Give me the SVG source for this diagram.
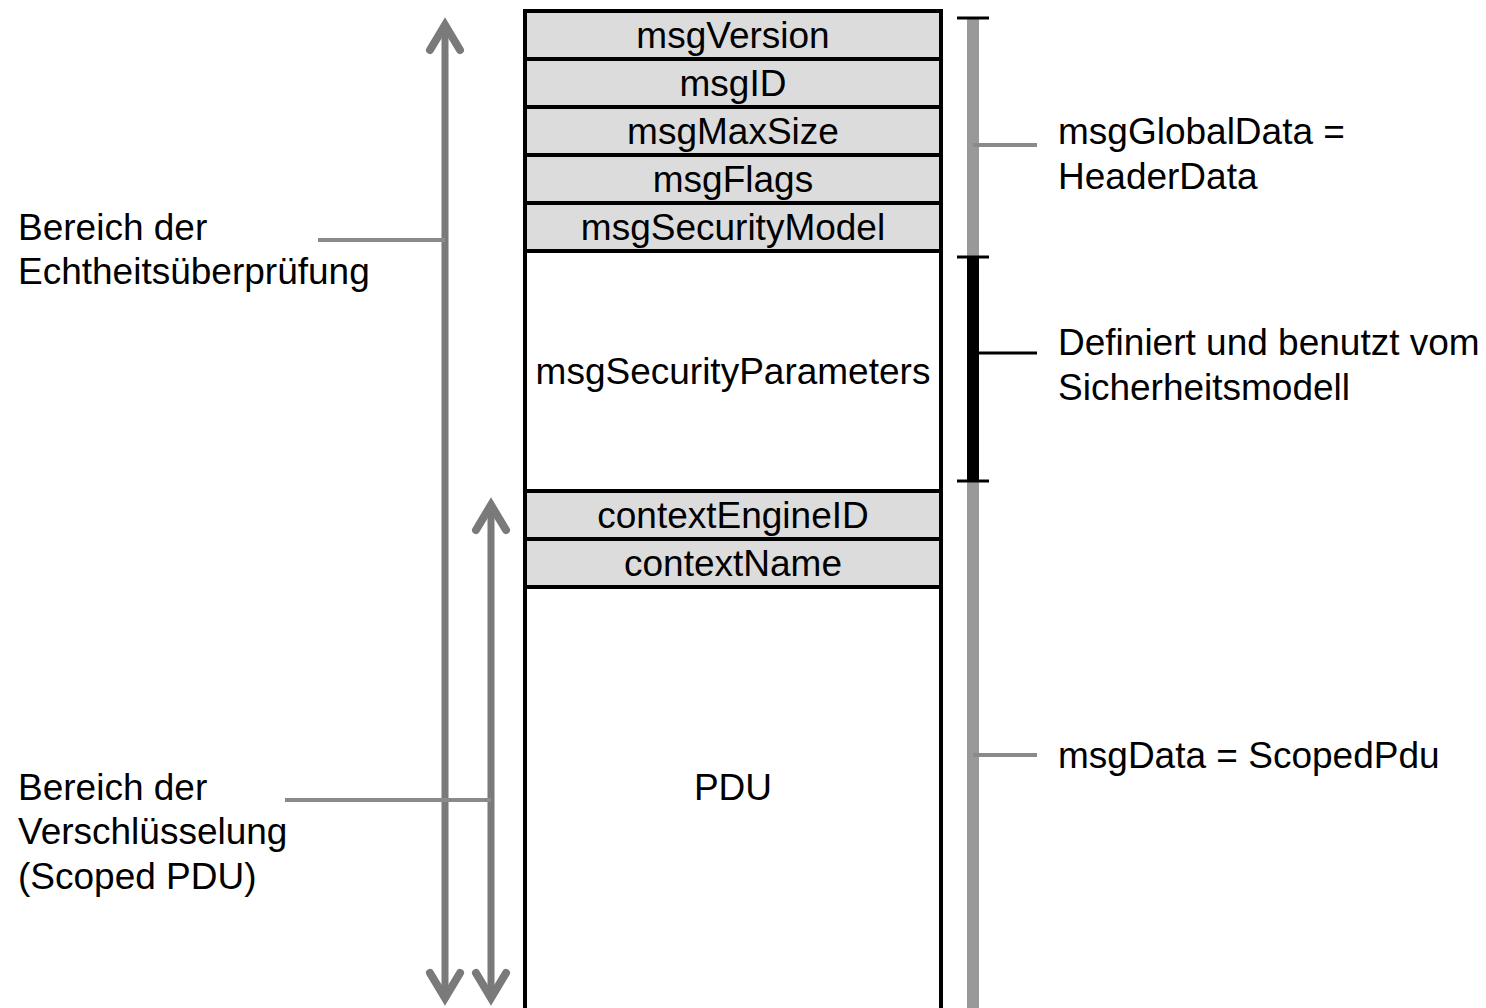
<svg xmlns="http://www.w3.org/2000/svg" width="1486" height="1008" viewBox="0 0 1486 1008">
  <style>
    text { font-family: "Liberation Sans", Arial, sans-serif; font-size: 37px; fill: #000; }
    .c { text-anchor: middle; dominant-baseline: central; }
    .l { dominant-baseline: central; }
    .field { stroke: #000; stroke-width: 4; }
    .hdr { fill: #dcdcdc; }
    .body { fill: #fff; }
    .shaft { stroke: #7a7a7a; stroke-width: 7; fill: none; }
    .head { stroke: #7a7a7a; stroke-width: 8; fill: none; stroke-linecap: round; stroke-linejoin: miter; stroke-miterlimit: 10; }
    .lead { stroke: #8a8a8a; stroke-width: 4; fill: none; }
    .bar { stroke: #999; stroke-width: 12; fill: none; }
    .tick { stroke: #000; stroke-width: 3; fill: none; }
  </style>
  <rect width="1486" height="1008" fill="#fff"/>

  <!-- message fields -->
  <g id="msgVersion"><rect class="field hdr" x="525" y="11" width="416" height="48"/><text class="c" x="733" y="35">msgVersion</text></g>
  <g id="msgID"><rect class="field hdr" x="525" y="59" width="416" height="48"/><text class="c" x="733" y="83">msgID</text></g>
  <g id="msgMaxSize"><rect class="field hdr" x="525" y="107" width="416" height="48"/><text class="c" x="733" y="131">msgMaxSize</text></g>
  <g id="msgFlags"><rect class="field hdr" x="525" y="155" width="416" height="48"/><text class="c" x="733" y="179">msgFlags</text></g>
  <g id="msgSecurityModel"><rect class="field hdr" x="525" y="203" width="416" height="48"/><text class="c" x="733" y="227">msgSecurityModel</text></g>
  <g id="msgSecurityParameters"><rect class="field body" x="525" y="251" width="416" height="240"/><text class="c" x="733" y="371">msgSecurityParameters</text></g>
  <g id="contextEngineID"><rect class="field hdr" x="525" y="491" width="416" height="48"/><text class="c" x="733" y="515">contextEngineID</text></g>
  <g id="contextName"><rect class="field hdr" x="525" y="539" width="416" height="48"/><text class="c" x="733" y="563">contextName</text></g>
  <g id="PDU"><rect class="field body" x="525" y="587" width="416" height="440"/><text class="c" x="733" y="787">PDU</text></g>

  <!-- side labels -->
  <g id="label-auth"><text class="l" x="18" y="227">Bereich der</text><text class="l" x="18" y="271">Echtheitsüberprüfung</text></g>
  <g id="label-priv"><text class="l" x="18" y="787">Bereich der</text><text class="l" x="18" y="831">Verschlüsselung</text><text class="l" x="18" y="876">(Scoped PDU)</text></g>
  <g id="label-global"><text class="l" x="1058" y="131">msgGlobalData =</text><text class="l" x="1058" y="176">HeaderData</text></g>
  <g id="label-secmodel"><text class="l" x="1058" y="342">Definiert und benutzt vom</text><text class="l" x="1058" y="387">Sicherheitsmodell</text></g>
  <g id="label-data"><text class="l" x="1058" y="755">msgData = ScopedPdu</text></g>

  <!-- connectors -->
  <g id="connectors">
    <!-- authentication range: double-headed arrow -->
    <line class="shaft" x1="445" y1="28" x2="445" y2="994"/>
    <path class="head" d="M430,50 L445,25 L460,50"/>
    <path class="head" d="M430,973 L445,998 L460,973"/>
    <!-- encryption range: double-headed arrow -->
    <line class="shaft" x1="491" y1="508" x2="491" y2="994"/>
    <path class="head" d="M476,530 L491,505 L506,530"/>
    <path class="head" d="M476,973 L491,998 L506,973"/>
    <line class="lead" x1="318" y1="240" x2="445" y2="240"/>
    <line class="lead" x1="285" y1="800" x2="491" y2="800"/>

    <!-- right-hand brackets -->
    <line class="bar" x1="973" y1="18" x2="973" y2="1008"/>
    <line stroke="#000" stroke-width="12" x1="973" y1="257" x2="973" y2="481"/>
    <line class="tick" x1="957" y1="18" x2="989" y2="18"/>
    <line class="tick" x1="957" y1="257" x2="989" y2="257"/>
    <line class="tick" x1="957" y1="481" x2="989" y2="481"/>
    <line class="lead" x1="973" y1="145" x2="1037" y2="145"/>
    <line stroke="#000" stroke-width="3" x1="973" y1="353" x2="1037" y2="353"/>
    <line class="lead" x1="973" y1="755" x2="1037" y2="755"/>
  </g>
</svg>
